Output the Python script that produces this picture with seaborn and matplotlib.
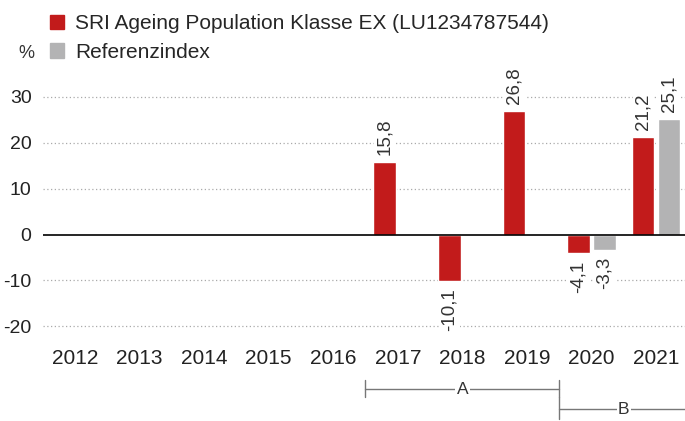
import matplotlib
matplotlib.use("Agg")
import matplotlib.pyplot as plt
import matplotlib.transforms as mtransforms
from matplotlib.patches import Patch
import numpy as np
import pandas as pd
import seaborn as sns

# data
years = ['2012', '2013', '2014', '2015', '2016', '2017', '2018', '2019', '2020', '2021']
fund_values = [np.nan, np.nan, np.nan, np.nan, np.nan, 15.8, -10.1, 26.8, -4.1, 21.2]
index_values = [np.nan, np.nan, np.nan, np.nan, np.nan, np.nan, np.nan, np.nan, -3.3, 25.1]
series_names = ['SRI Ageing Population Klasse EX (LU1234787544)', 'Referenzindex']
y_ticks = [-20, -10, 0, 10, 20, 30]

red = '#c21b1b'
grey = '#b3b3b4'

df = pd.DataFrame({
    'year': years * 2,
    'value': fund_values + index_values,
    'series': [series_names[0]] * len(years) + [series_names[1]] * len(years),
})

sns.set_style('white')
plt.rcParams['font.family'] = ['Liberation Sans', 'DejaVu Sans']

fig = plt.figure(figsize=(6.85, 4.21), dpi=100)
ax = fig.add_axes([0.0623, 0.181, 0.9425, 0.622])

sns.barplot(
    data=df, x='year', y='value', hue='series', order=years,
    hue_order=series_names, palette=[red, grey],
    width=0.8, gap=0.12, saturation=1, legend=False, ax=ax,
)

ax.set_ylim(-24, 33)
ax.set_xlim(-0.5, 9.5)
ax.set_yticks(y_ticks)
ax.set_yticklabels([str(t) for t in y_ticks], fontsize=14, color='#222222')
ax.tick_params(axis='x', labelsize=15, colors='#222222', length=0, pad=3)
ax.tick_params(axis='y', length=0, pad=8)
ax.set_xlabel('')
ax.set_ylabel('')
for s in ax.spines.values():
    s.set_visible(False)

# gridlines
for t in y_ticks:
    if t == 0:
        ax.axhline(0, color='black', lw=1.2, zorder=3)
    else:
        ax.axhline(t, color='#aaaaaa', lw=0.9, ls=(0, (1, 2)), zorder=0)

# value labels, white box so the grid breaks around them
box = dict(facecolor='white', edgecolor='none', pad=1.5)
for container in ax.containers:
    for bar in container:
        h = bar.get_height()
        if np.isnan(h):
            continue
        x = bar.get_x() + bar.get_width() / 2
        lab = f'{h:.1f}'.replace('.', ',')
        if h >= 0:
            ax.annotate(lab, (x, h), xytext=(0, 5), textcoords='offset points',
                        rotation=90, ha='center', va='bottom', fontsize=13.5,
                        color='#333333', bbox=box, zorder=2)
        else:
            ax.annotate(lab, (x, h), xytext=(0, -5), textcoords='offset points',
                        rotation=90, ha='center', va='top', fontsize=13.5,
                        color='#333333', bbox=box, zorder=2)

# legend
handles = [Patch(color=red), Patch(color=grey)]
fig.legend(handles, series_names, loc='upper left', bbox_to_anchor=(0.056, 0.993),
           frameon=False, fontsize=15, handlelength=0.7, handleheight=0.7,
           handletextpad=0.5, labelspacing=0.45, borderaxespad=0.15)
fig.text(0.027, 0.874, '%', fontsize=13, color='#333333', ha='left', va='center')

# period brackets under the axis
trans = mtransforms.blended_transform_factory(ax.transData, fig.transFigure)
line_kw = dict(color='#777777', lw=1, transform=trans, clip_on=False)
lbox = dict(facecolor='white', edgecolor='none', pad=1)
ya = 1 - 389 / 421
yb = 1 - 409 / 421
ax.plot([4.5, 7.5], [ya, ya], **line_kw)
ax.plot([4.5, 4.5], [1 - 380 / 421, 1 - 397 / 421], **line_kw)
ax.plot([7.5, 7.5], [1 - 380 / 421, 1 - 397 / 421], **line_kw)
ax.text(6.0, ya, 'A', transform=trans, ha='center', va='center', fontsize=12.5,
        color='#333333', bbox=lbox)
ax.plot([7.5, 9.5], [yb, yb], **line_kw)
ax.plot([7.5, 7.5], [1 - 397 / 421, 1 - 419 / 421], **line_kw)
ax.text(8.5, yb, 'B', transform=trans, ha='center', va='center', fontsize=12.5,
        color='#333333', bbox=lbox)

fig.savefig('out.png', dpi=100)
